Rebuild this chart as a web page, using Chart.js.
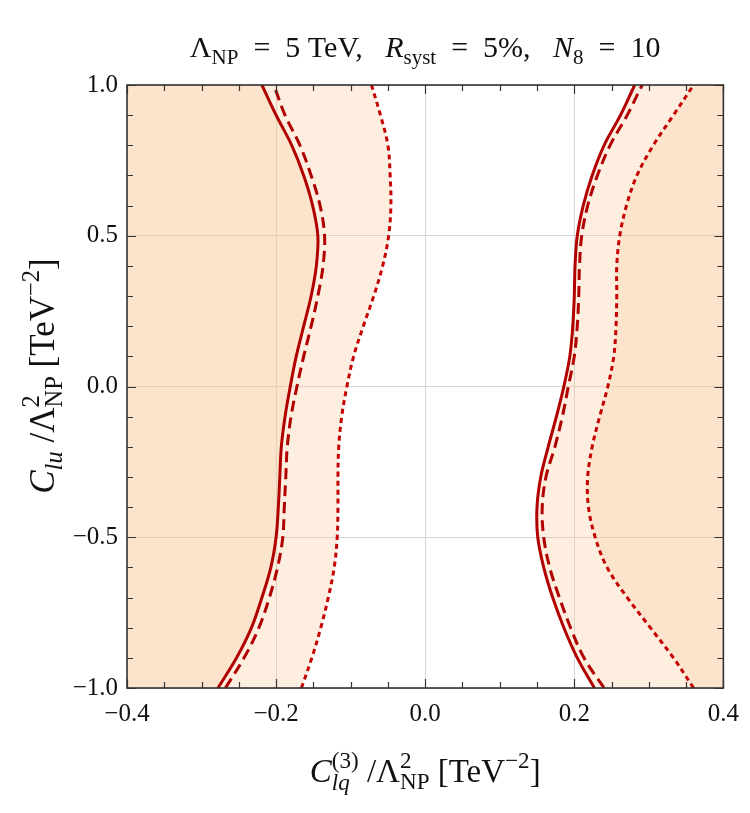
<!DOCTYPE html>
<html>
<head>
<meta charset="utf-8">
<script src="https://cdn.jsdelivr.net/npm/chart.js@4"></script>
<style>
  body { margin: 0; background: #fff; }
  canvas { display: block; }
</style>
</head>
<body>
<canvas id="chart" width="750" height="813"></canvas>
<script>
const yLevels = [-1.0, -0.9, -0.8, -0.7, -0.6, -0.5, -0.4, -0.3, -0.2, -0.1, 0.0,
  0.1, 0.2, 0.3, 0.4, 0.5, 0.6, 0.7, 0.8, 0.9, 1.0];

// left branch, C_lq^(3) values
const leftSolid = [-0.278, -0.253, -0.233, -0.219, -0.207, -0.200, -0.197, -0.195, -0.193, -0.188, -0.181,
  -0.173, -0.163, -0.153, -0.146, -0.144, -0.151, -0.163, -0.179, -0.200, -0.219];
const leftDashed = [-0.268, -0.243, -0.223, -0.209, -0.198, -0.191, -0.189, -0.187, -0.185, -0.180, -0.172,
  -0.163, -0.153, -0.144, -0.137, -0.135, -0.141, -0.153, -0.168, -0.188, -0.203];
const leftDotted = [-0.166, -0.152, -0.140, -0.130, -0.122, -0.118, -0.117, -0.117, -0.116, -0.112, -0.105,
  -0.096, -0.083, -0.069, -0.057, -0.049, -0.046, -0.047, -0.050, -0.060, -0.072];

// right branch
const rightSolid = [0.227, 0.204, 0.186, 0.171, 0.159, 0.151, 0.150, 0.155, 0.165, 0.176, 0.186,
  0.194, 0.198, 0.200, 0.201, 0.204, 0.212, 0.224, 0.240, 0.262, 0.281];
const rightDashed = [0.240, 0.213, 0.195, 0.180, 0.167, 0.159, 0.157, 0.162, 0.174, 0.184, 0.192,
  0.200, 0.204, 0.206, 0.207, 0.210, 0.218, 0.231, 0.248, 0.271, 0.291];
const rightDotted = [0.360, 0.333, 0.302, 0.271, 0.244, 0.228, 0.219, 0.218, 0.224, 0.234, 0.245,
  0.253, 0.256, 0.257, 0.257, 0.261, 0.270, 0.284, 0.306, 0.333, 0.360];

const xTicks = [-0.4, -0.2, 0.0, 0.2, 0.4];
const yTicks = [-1.0, -0.5, 0.0, 0.5, 1.0];

const RED = "#b00000";
const RED_DOT = "#c40000";
const FILL = "rgba(250,200,150,0.30)";
const FILL_DARK = "rgba(250,200,150,0.26)";
const SERIF = '"Liberation Serif", "DejaVu Serif", serif';

const pts = (xs) => xs.map((x, i) => ({ x, y: yLevels[i] }));

function lineSet(xs, color, dash) {
  return {
    data: pts(xs),
    borderColor: color,
    borderWidth: 3,
    borderDash: dash,
    pointRadius: 0,
    tension: 0.35,
    fill: false,
    order: 1,
  };
}

// fill from the contour out to the frame edge (value on the x scale)
function fillSet(xs, color, edge, order) {
  return {
    data: pts(xs),
    borderWidth: 0,
    backgroundColor: color,
    pointRadius: 0,
    tension: 0.35,
    fill: { value: edge },
    order,
  };
}

// draws a run of text pieces (italic, sub/superscripts); stack=true keeps x for next piece
function walkRuns(ctx, runs, base, x0, y0, draw) {
  let x = x0, pend = 0;
  for (const r of runs) {
    ctx.font = `${r.i ? "italic " : ""}${base * (r.s || 1)}px ${SERIF}`;
    const w = ctx.measureText(r.t).width;
    if (draw) ctx.fillText(r.t, x, y0 + (r.dy || 0) * base);
    if (r.stack) {
      pend = Math.max(pend, w);
    } else {
      x += Math.max(w, pend);
      pend = 0;
    }
  }
  return x - x0;
}

function drawRuns(ctx, runs, base, cx, cy) {
  ctx.textBaseline = "alphabetic";
  ctx.textAlign = "left";
  const w = walkRuns(ctx, runs, base, 0, 0, false);
  walkRuns(ctx, runs, base, cx - w / 2, cy, true);
}

const SP = "\u2002";
const titleRuns = [
  { t: "Λ" }, { t: "NP", s: 0.7, dy: 0.22 },
  { t: SP + "=" + SP + "5 TeV, " + SP },
  { t: "R", i: true }, { t: "syst", s: 0.7, dy: 0.22 },
  { t: SP + "=" + SP + "5%, " + SP },
  { t: "N", i: true }, { t: "8", s: 0.7, dy: 0.22 },
  { t: SP + "=" + SP + "10" },
];
const xTitleRuns = [
  { t: "C", i: true },
  { t: "lq", i: true, s: 0.7, dy: 0.25, stack: true }, { t: "(3)", s: 0.7, dy: -0.42 },
  { t: " /Λ" },
  { t: "NP", s: 0.7, dy: 0.22, stack: true }, { t: "2", s: 0.7, dy: -0.42 },
  { t: " [TeV" }, { t: "−2", s: 0.7, dy: -0.42 }, { t: "]" },
];
const yTitleRuns = [
  { t: "C", i: true }, { t: "lu", i: true, s: 0.7, dy: 0.22 },
  { t: " /Λ" },
  { t: "NP", s: 0.7, dy: 0.22, stack: true }, { t: "2", s: 0.7, dy: -0.42 },
  { t: " [TeV" }, { t: "−2", s: 0.7, dy: -0.42 }, { t: "]" },
];

const decorations = {
  id: "decorations",
  afterDraw(chart) {
    const { ctx, chartArea: a, scales } = chart;
    const sx = scales.x, sy = scales.y;
    ctx.save();
    ctx.strokeStyle = "#333";
    ctx.lineWidth = 1.2;
    // inward ticks on all four sides
    ctx.beginPath();
    for (let k = -8; k <= 8; k++) {
      const v = k * 0.05;
      const px = Math.round(sx.getPixelForValue(v)) + 0.5;
      const len = k % 4 === 0 ? 9 : 6;
      ctx.moveTo(px, a.bottom); ctx.lineTo(px, a.bottom - len);
      ctx.moveTo(px, a.top); ctx.lineTo(px, a.top + len);
    }
    for (let k = -10; k <= 10; k++) {
      const v = k * 0.1;
      const py = Math.round(sy.getPixelForValue(v)) + 0.5;
      const len = k % 5 === 0 ? 9 : 6;
      ctx.moveTo(a.left, py); ctx.lineTo(a.left + len, py);
      ctx.moveTo(a.right, py); ctx.lineTo(a.right - len, py);
    }
    ctx.stroke();
    ctx.lineWidth = 1.6;
    ctx.strokeRect(a.left, a.top, a.right - a.left, a.bottom - a.top);

    ctx.fillStyle = "#111";
    drawRuns(ctx, titleRuns, 30, (a.left + a.right) / 2, 57);
    drawRuns(ctx, xTitleRuns, 33, (a.left + a.right) / 2, 782);
    ctx.translate(54, 376);
    ctx.rotate(-Math.PI / 2);
    drawRuns(ctx, yTitleRuns, 35, 0, 0);
    ctx.restore();
  },
};

const fmt = (v) => v.toFixed(1).replace("-", "−");

new Chart(document.getElementById("chart"), {
  type: "line",
  data: {
    datasets: [
      // shaded excluded regions
      fillSet(leftDotted, FILL, -0.4, 10),
      fillSet(leftSolid, FILL_DARK, -0.4, 9),
      fillSet(rightSolid, FILL, 0.4, 10),
      fillSet(rightDotted, FILL_DARK, 0.4, 9),
      // contours
      lineSet(leftDotted, RED_DOT, [5, 4]),
      lineSet(leftDashed, RED, [11, 6]),
      lineSet(leftSolid, RED, []),
      lineSet(rightDotted, RED_DOT, [5, 4]),
      lineSet(rightDashed, RED, [11, 6]),
      lineSet(rightSolid, RED, []),
    ],
  },
  options: {
    indexAxis: "y",
    responsive: false,
    animation: false,
    layout: { padding: { top: 85, right: 23, bottom: 75, left: 0 } },
    plugins: { legend: { display: false }, title: { display: false }, tooltip: { enabled: false } },
    scales: {
      x: {
        type: "linear",
        min: -0.4,
        max: 0.4,
        afterFit: (s) => { s.height = 50; },
        afterBuildTicks: (s) => { s.ticks = xTicks.map((value) => ({ value })); },
        ticks: {
          padding: 11,
          color: "#111",
          font: { family: SERIF, size: 25 },
          callback: (v) => fmt(v),
        },
        grid: { color: "#d6d6d6", lineWidth: 1, drawTicks: false },
        border: { display: false },
      },
      y: {
        type: "linear",
        min: -1,
        max: 1,
        afterFit: (s) => { s.width = 127; },
        afterBuildTicks: (s) => { s.ticks = yTicks.map((value) => ({ value })); },
        ticks: {
          padding: 9,
          color: "#111",
          font: { family: SERIF, size: 25 },
          callback: (v) => fmt(v),
        },
        grid: { color: "#d6d6d6", lineWidth: 1, drawTicks: false },
        border: { display: false },
      },
    },
  },
  plugins: [decorations],
});
</script>
</body>
</html>
